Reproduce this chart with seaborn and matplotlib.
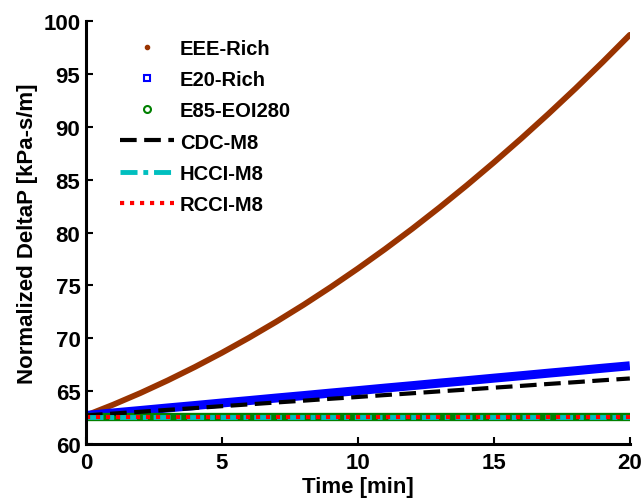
import matplotlib
matplotlib.use("Agg")
import matplotlib.pyplot as plt
from matplotlib.lines import Line2D
import pandas as pd
import seaborn as sns

# time axis [min]
time_min = [0, 1, 2, 3, 4, 5, 6, 7, 8, 9, 10, 11, 12, 13, 14, 15, 16, 17, 18, 19, 20]

# normalized DeltaP [kPa-s/m]
eee_rich = [62.70, 63.72, 64.82, 66.01, 67.28, 68.63, 70.06, 71.57, 73.16, 74.84, 76.60,
            78.44, 80.36, 82.37, 84.46, 86.63, 88.88, 91.21, 93.62, 96.12, 98.70]
e20_rich = [62.70, 62.94, 63.17, 63.41, 63.64, 63.88, 64.11, 64.35, 64.58, 64.82, 65.05,
            65.29, 65.52, 65.76, 65.99, 66.23, 66.46, 66.70, 66.93, 67.17, 67.40]
e85_eoi280 = [62.6, 62.6, 62.6, 62.6, 62.6, 62.6, 62.6, 62.6, 62.6, 62.6, 62.6,
              62.6, 62.6, 62.6, 62.6, 62.6, 62.6, 62.6, 62.6, 62.6, 62.6]
cdc_m8 = [62.70, 62.88, 63.05, 63.23, 63.40, 63.58, 63.75, 63.93, 64.10, 64.28, 64.45,
          64.63, 64.80, 64.98, 65.15, 65.33, 65.50, 65.68, 65.85, 66.03, 66.20]
hcci_m8 = [62.6, 62.6, 62.6, 62.6, 62.6, 62.6, 62.6, 62.6, 62.6, 62.6, 62.6,
           62.6, 62.6, 62.6, 62.6, 62.6, 62.6, 62.6, 62.6, 62.6, 62.6]
rcci_m8 = [62.6, 62.6, 62.6, 62.6, 62.6, 62.6, 62.6, 62.6, 62.6, 62.6, 62.6,
           62.6, 62.6, 62.6, 62.6, 62.6, 62.6, 62.6, 62.6, 62.6, 62.6]

series_names = ["EEE-Rich", "E20-Rich", "E85-EOI280", "CDC-M8", "HCCI-M8", "RCCI-M8"]
series_values = [eee_rich, e20_rich, e85_eoi280, cdc_m8, hcci_m8, rcci_m8]

sns.set_style("ticks", {"axes.edgecolor": "black", "text.color": "black",
                        "xtick.color": "black", "ytick.color": "black",
                        "axes.labelcolor": "black"})
plt.rcParams["font.family"] = ["Liberation Sans", "DejaVu Sans"]
plt.rcParams["font.weight"] = "bold"

fig = plt.figure(figsize=(6.44, 5.02), dpi=100)
ax = fig.add_axes([0.1335, 0.1135, 0.8445, 0.8425])

df = pd.DataFrame({"t": time_min})
for name, vals in zip(series_names, series_values):
    df[name] = vals

brown = "#993300"
cyan = "#00bfbf"

sns.lineplot(data=df, x="t", y="EEE-Rich", ax=ax, color=brown, lw=4.2,
             solid_capstyle="round", legend=False)
sns.lineplot(data=df, x="t", y="E20-Rich", ax=ax, color="blue", lw=6.5,
             solid_capstyle="butt", legend=False)
sns.lineplot(data=df, x="t", y="E85-EOI280", ax=ax, color="green", lw=6.0,
             solid_capstyle="round", legend=False)
sns.lineplot(data=df, x="t", y="CDC-M8", ax=ax, color="black", lw=3.0,
             legend=False).lines[-1].set_dashes((4, 1.8))
sns.lineplot(data=df, x="t", y="HCCI-M8", ax=ax, color=cyan, lw=3.5,
             legend=False).lines[-1].set_dashes((3.5, 1.2, 1, 1.2))
sns.lineplot(data=df, x="t", y="RCCI-M8", ax=ax, color="red", lw=3.0,
             legend=False).lines[-1].set_dashes((1, 1.4))

ax.set_xlim(0, 20)
ax.set_ylim(60, 100)
ax.set_xticks([0, 5, 10, 15, 20])
ax.set_yticks([60, 65, 70, 75, 80, 85, 90, 95, 100])
ax.tick_params(direction="in", length=5, width=1.5, labelsize=16)
ax.tick_params(axis="x", pad=6)
ax.tick_params(axis="y", pad=4)
for lab in ax.get_xticklabels() + ax.get_yticklabels():
    lab.set_fontweight("bold")
sns.despine(ax=ax)
for sp in ["left", "bottom"]:
    ax.spines[sp].set_linewidth(2.2)

ax.set_xlabel("Time [min]", fontsize=16, fontweight="bold", labelpad=2)
ax.set_ylabel("Normalized DeltaP [kPa-s/m]", fontsize=16, fontweight="bold", labelpad=4)

handles = [
    Line2D([], [], ls="none", marker=".", color=brown, ms=6),
    Line2D([], [], ls="none", marker="s", mfc="none", mec="blue", mew=1.5, ms=5),
    Line2D([], [], ls="none", marker="o", mfc="none", mec="green", mew=1.5, ms=5),
    Line2D([], [], color="black", lw=3.0, dashes=(4, 1.8)),
    Line2D([], [], color=cyan, lw=3.5, dashes=(3.5, 1.2, 1, 1.2)),
    Line2D([], [], color="red", lw=3.0, dashes=(1, 1.4)),
]
ax.legend(handles, series_names, loc="upper left", bbox_to_anchor=(0.062, 0.957),
          frameon=False, prop={"weight": "bold", "size": 14.5},
          handlelength=2.7, handletextpad=0.3, labelspacing=0.6,
          borderaxespad=0, borderpad=0)

fig.savefig("out.png", dpi=100)
